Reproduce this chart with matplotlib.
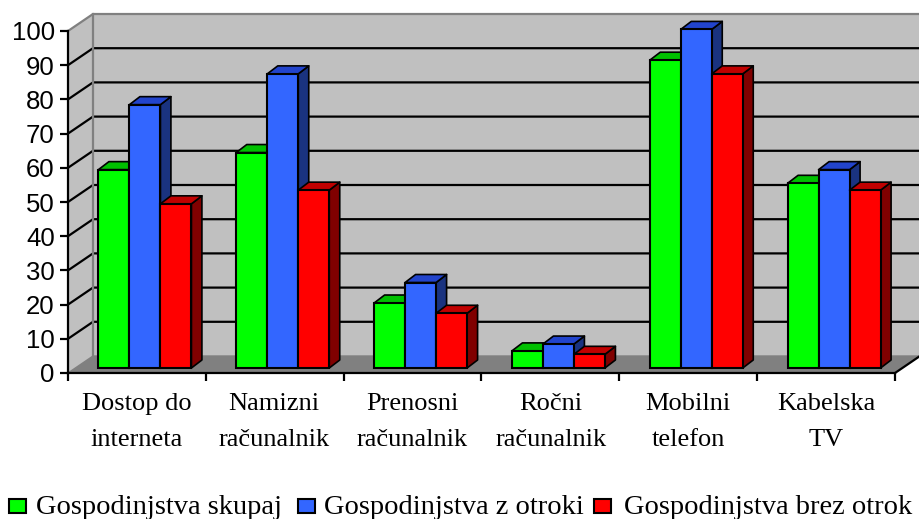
import matplotlib
matplotlib.use("Agg")
import matplotlib.pyplot as plt
from matplotlib.patches import Polygon, Rectangle

categories = ["Dostop do\ninterneta", "Namizni\nračunalnik", "Prenosni\nračunalnik",
              "Ročni\nračunalnik", "Mobilni\ntelefon", "Kabelska\nTV"]
skupaj = [58, 63, 19, 5, 90, 54]
z_otroki = [77, 86, 25, 7, 99, 58]
brez_otrok = [48, 52, 16, 4, 86, 52]
series_names = ["Gospodinjstva skupaj", "Gospodinjstva z otroki", "Gospodinjstva brez otrok"]
front_colors = ["#00FF00", "#3366FF", "#FF0000"]
top_colors = ["#00C000", "#2244CC", "#C00000"]
side_colors = ["#008000", "#1A3380", "#800000"]
yticks = list(range(0, 101, 10))

W, H = 920, 519
L, R, T, B = 68, 895, 31, 373
PX_X = (R - L) / 6
PX_Y = (B - T) / 100
DX = 25 / PX_X
DY = 17 / PX_Y
BAR_W = 31 / PX_X
BX = 8 / PX_X
BY = 5 / PX_Y
SDX = 10.5 / PX_X
SDY = 8 / PX_Y

plt.rcParams["font.family"] = ["Liberation Sans", "DejaVu Sans"]
fig = plt.figure(figsize=(W / 100, H / 100), dpi=100)
ax = fig.add_axes([L / W, 1 - B / H, (R - L) / W, (B - T) / H])
ax.set_xlim(0, 6)
ax.set_ylim(0, 100)
ax.patch.set_visible(False)
for s in ["top", "right"]:
    ax.spines[s].set_visible(False)
for s in ["left", "bottom"]:
    ax.spines[s].set_linewidth(1.6)
    ax.spines[s].set_zorder(6)

# walls
ax.add_patch(Polygon([(DX, 0 + DY), (6 + DX, DY), (6 + DX, 100 + DY), (DX, 100 + DY)],
                     fc="#C0C0C0", ec="none", clip_on=False, zorder=0))
ax.add_patch(Polygon([(0, 0), (DX, DY), (DX, 100 + DY), (0, 100)],
                     fc="#C0C0C0", ec="none", clip_on=False, zorder=0))
ax.add_patch(Polygon([(0, 0), (6, 0), (6 + DX, DY), (DX, DY)],
                     fc="#808080", ec="none", clip_on=False, zorder=0.5))
for v in yticks[1:-1]:
    ax.plot([0, DX, 6 + DX], [v, v + DY, v + DY], color="black", lw=1.6, clip_on=False, zorder=1)
ax.plot([0, DX, 6 + DX], [100, 100 + DY, 100 + DY], color="#808080", lw=1.6, clip_on=False, zorder=1)
ax.plot([DX, DX], [DY, 100 + DY], color="#808080", lw=1.6, clip_on=False, zorder=1)
ax.plot([0, DX, 6 + DX], [0, DY, DY], color="#808080", lw=1.0, clip_on=False, zorder=1)
ax.plot([6, 6 + DX], [0, DY], color="black", lw=1.6, clip_on=False, zorder=6)

# bars
all_series = [skupaj, z_otroki, brez_otrok]
for i in range(6):
    for j, vals in enumerate(all_series):
        v = vals[i]
        x0 = i + 0.5 + BX + (j - 1.5) * BAR_W
        x1 = x0 + BAR_W
        y0 = BY
        y1 = BY + v
        z = 3 + j * 0.1
        ax.add_patch(Polygon([(x1, y0), (x1 + SDX, y0 + SDY), (x1 + SDX, y1 + SDY), (x1, y1)],
                             fc=side_colors[j], ec="black", lw=1.2, zorder=z, joinstyle="round",
                             clip_on=False))
        ax.add_patch(Polygon([(x0, y1), (x1, y1), (x1 + SDX, y1 + SDY), (x0 + SDX, y1 + SDY)],
                             fc=top_colors[j], ec="black", lw=1.2, zorder=z, joinstyle="round",
                             clip_on=False))
        ax.bar(x0, v, width=BAR_W, bottom=y0, align="edge", color=front_colors[j],
               edgecolor="black", linewidth=1.5, zorder=z + 0.05, clip_on=False)

ax.set_yticks(yticks)
ax.tick_params(axis="y", length=6, width=1.6, labelsize=18.5, pad=3.5, color="black")
ax.set_xticks(range(7))
ax.set_xticklabels([])
ax.tick_params(axis="x", length=6, width=1.6)

text_centers = [137, 274, 412, 551, 688, 826]
for cx, name in zip(text_centers, categories):
    fig.text(cx / W, 1 - 393 / H, name, ha="center", va="top", fontsize=19,
             family="Liberation Serif", linespacing=1.8)

swatches = [(9, 159.5), (298, 454), (594, 768)]
for (sx, tc), name, col in zip(swatches, series_names, front_colors):
    fig.add_artist(Rectangle((sx / W, 1 - 513 / H), 17 / W, 14 / H, transform=fig.transFigure,
                             fc=col, ec="black", lw=1.5))
    fig.text(tc / W, 1 - 508 / H, name, ha="center", va="center", fontsize=20.5,
             family="Liberation Serif")

fig.savefig("out.png", dpi=100)
